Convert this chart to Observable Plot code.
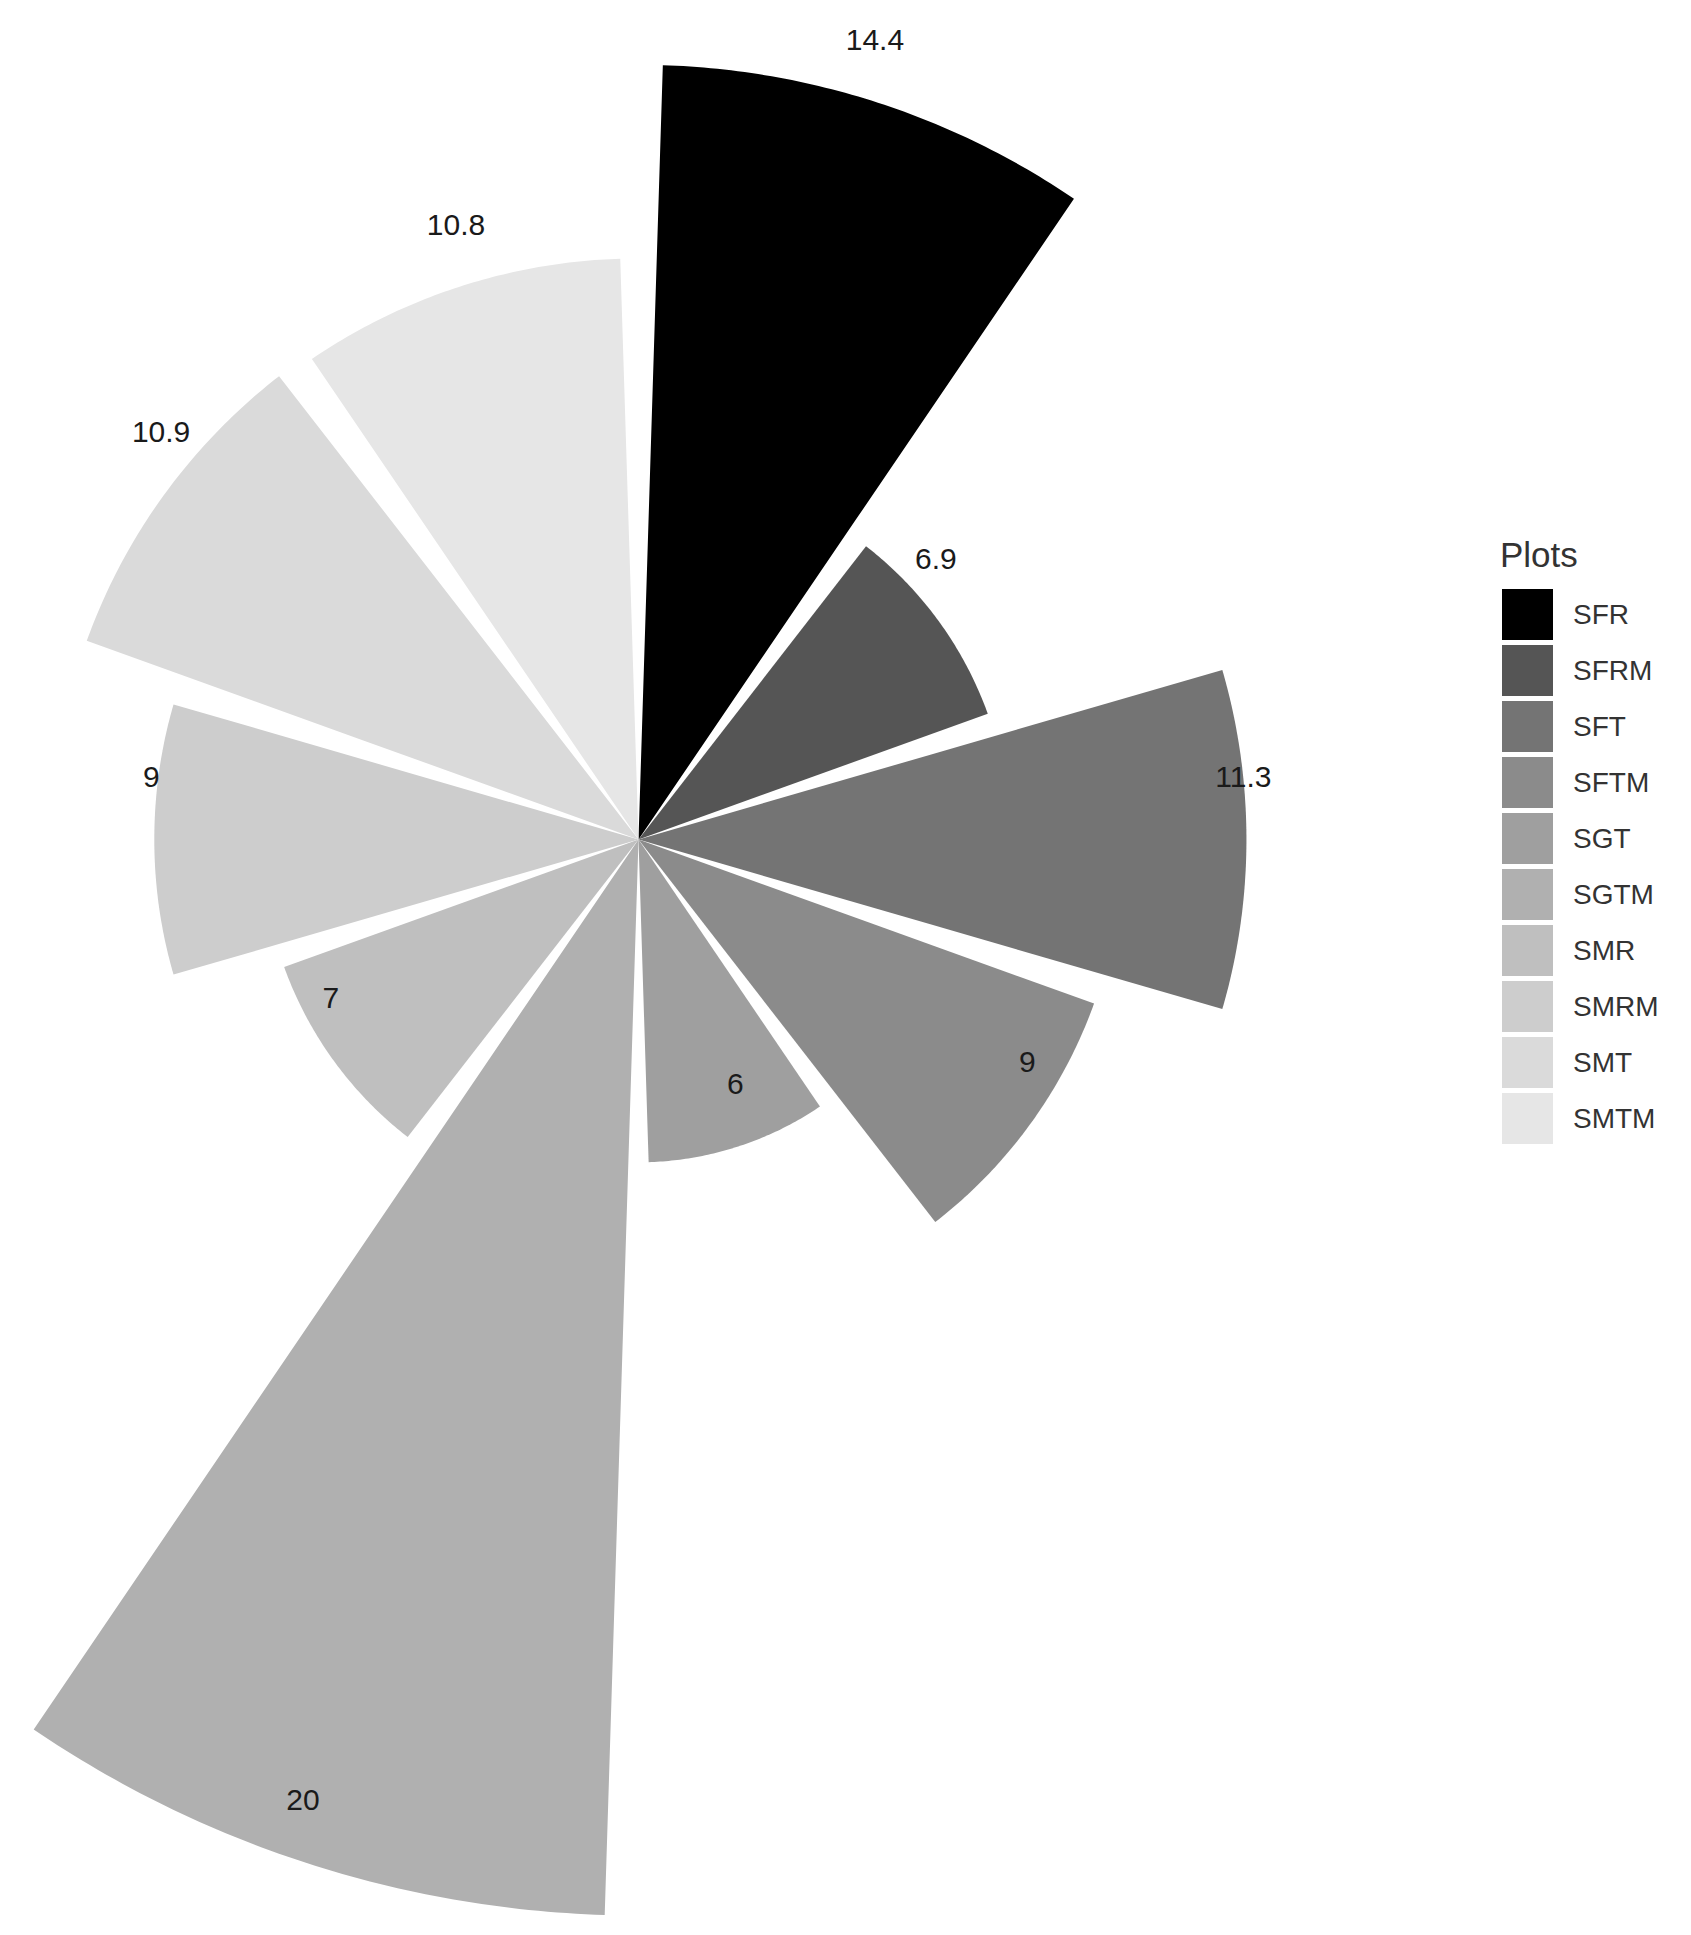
<!DOCTYPE html>
<html><head><meta charset="utf-8">
<script src="https://cdn.jsdelivr.net/npm/d3@7"></script>
<script src="https://cdn.jsdelivr.net/npm/@observablehq/plot@0.6"></script>
<style>
body{margin:0;background:#fff;font-family:"Liberation Sans",Arial,sans-serif;}
#wrap{position:relative;width:1691px;height:1935px;overflow:hidden;}
#chart{position:absolute;left:0;top:0;}
#legend{position:absolute;left:1500px;top:535px;}
#legend .ttl{font-size:35px;color:#333;line-height:40px;margin-bottom:14px;font-family:"Liberation Sans",Arial,sans-serif;}
.lg-swatches{font-family:"Liberation Sans",Arial,sans-serif !important;margin-left:2px;}
.lg-swatch{padding-bottom:5px !important;}
.lg-swatch > svg{margin-right:20px !important;}
.lg-swatch-label{font-size:28px;color:#333;}
</style></head><body>
<div id="wrap"><div id="chart"></div><div id="legend"><div class="ttl">Plots</div></div></div>
<script>
const categories = ["SFR","SFRM","SFT","SFTM","SGT","SGTM","SMR","SMRM","SMT","SMTM"];
const values = [14.4, 6.9, 11.3, 9, 6, 20, 7, 9, 10.9, 10.8];
const greys = ["#000000","#555555","#747474","#8b8b8b","#9f9f9f","#b0b0b0","#bfbfbf","#cdcdcd","#dadada","#e6e6e6"];

const k = 4;               // degrees of latitude per data unit
const barWidth = 0.9;      // fraction of each sector filled
const step = 360 / categories.length;
const nearPole = 89.9999;

const wedges = categories.map((cat, i) => {
  const pad = step * (1 - barWidth) / 2;
  const t1 = step * i + pad, t2 = step * (i + 1) - pad;
  const a = 180 - t2, b = 180 - t1;
  const lat = 90 - values[i] * k;
  const ring = [[a, nearPole], [b, nearPole]];
  const n = 64;
  for (let j = 0; j <= n; j++) ring.push([b - (b - a) * j / n, lat]);
  ring.push([a, nearPole]);
  return {type: "Feature", properties: {cat, value: values[i]}, geometry: {type: "Polygon", coordinates: [ring]}};
});

const labels = categories.map((cat, i) => ({cat, value: values[i], lon: 180 - step * (i + 0.5), lat: 90 - values[i] * k}));

const pxPerUnit = 53.8;
const projection = d3.geoAzimuthalEquidistant()
  .rotate([0, -90])
  .translate([638, 839])
  .scale(pxPerUnit * 180 / (k * Math.PI));

const plot = Plot.plot({
  width: 1691, height: 1935, margin: 0,
  style: {background: "#fff", fontFamily: "Liberation Sans, Arial, sans-serif"},
  projection,
  color: {type: "ordinal", domain: categories, range: greys},
  marks: [
    Plot.geo(wedges, {fill: d => d.properties.cat}),
    Plot.text(labels, {x: "lon", y: "lat", text: d => String(d.value), dy: -62, dx: -3, fontSize: 30, fill: "#1a1a1a"})
  ]
});
document.getElementById("chart").appendChild(plot);
const lg = plot.legend("color", {legend: "swatches", columns: 1, swatchSize: 51, className: "lg"});
document.getElementById("legend").appendChild(lg);
</script>
</body></html>
